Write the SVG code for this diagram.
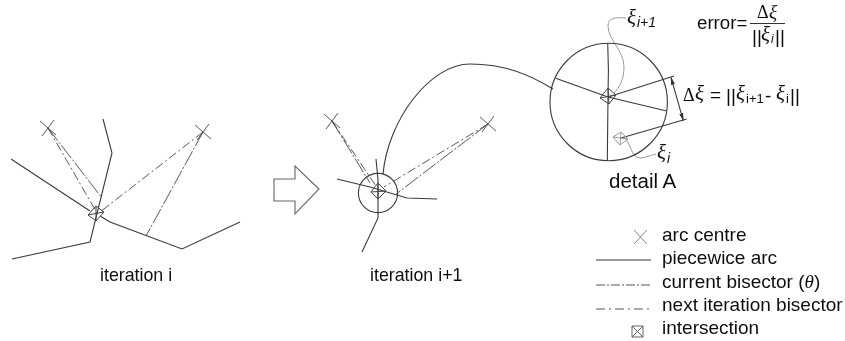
<svg xmlns="http://www.w3.org/2000/svg" width="845" height="341" viewBox="0 0 845 341">
<style>
.l{fill:none;stroke:#3a3a3a;stroke-width:1.1}
.g{fill:none;stroke:#999;stroke-width:1}
.x{fill:none;stroke:#444;stroke-width:.9}
.c{fill:none;stroke:#444;stroke-width:.9;stroke-dasharray:16 2 2 2}
.n{fill:none;stroke:#444;stroke-width:.9;stroke-dasharray:9 3 2 3}
text{font-family:"Liberation Sans",Arial,sans-serif;font-size:19px;fill:#111}
.it{font-size:17.8px}
.s{font-family:"Liberation Serif","Times New Roman",serif;font-style:italic;font-size:21px}
.si{font-style:italic;font-size:14px}
.m{font-family:"Liberation Serif","Times New Roman",serif;font-size:18px}
.f{font-size:19px}
.sub{font-size:13px}
</style>
<defs>
<filter id="b" x="0" y="0" width="1" height="1" filterUnits="objectBoundingBox"><feGaussianBlur stdDeviation="0.35"/></filter>
<marker id="a" markerWidth="8" markerHeight="6" refX="7.500" refY="3" orient="auto-start-reverse" markerUnits="userSpaceOnUse"><path d="M0 1L8 3L0 5Z" fill="#333"/></marker>
<g id="cross"><path d="M-8-7L8 7M-6 8L6-8" class="x"/></g>
<g id="diamond"><path d="M0-8L8-1L1 8L-8 2ZM0-8L1 8M-8 2L8-1" fill="none" stroke="#444" stroke-width="1"/></g>
</defs>
<rect width="845" height="341" fill="#fff"/>
<g filter="url(#b)">
<g id="connectors">
<path class="l" d="M274 179H295V166L319 189L295 214V201H274Z" style="stroke:#666"/>
<path class="l" d="M383 174C388 120 430 64 470 64C505 64 530 75 553 89"/>
<path class="g" d="M626 18C615 17 608 18 608 26C608 40 624 50 624 67C624 80 619 88 614 93"/>
<path class="g" d="M623 137C632 143 630 157 640 158C646 158 650 155 656 154"/>
</g>

<g id="iteration-i">
<path class="l" d="M11 159L90 211M100 216L110 222L182 249L240 222"/>
<path class="l" d="M103 119L112 153L90 242L12 259"/>
<use href="#cross" x="48" y="128"/>
<use href="#cross" x="203" y="132"/>
<path class="n" d="M48 128L97 213M203 132L100 212"/>
<path class="c" d="M48 128L102 198M203 132L146 236"/>
<path d="M88 215L96 206L104 212L96 221ZM88 215L104 212M96 206L96 221" fill="none" stroke="#444" stroke-width="1"/>
<text class="it" x="100" y="281">iteration i</text>
</g>

<g id="iteration-i1">
<path class="l" d="M337 179L370 187L407 198L437 199"/>
<path class="l" d="M376 159L378 180V218L362 252"/>
<circle class="l" cx="378" cy="193" r="19.600"/>
<use href="#cross" x="332" y="121"/>
<use href="#cross" x="488" y="124"/>
<path class="n" d="M332 121L376 186M488 124L384 187"/>
<path class="c" d="M332 121L370 183M488 124L396 194"/>
<path d="M371 192L378 183L386 191L378 199ZM371 192L386 191M378 183V199" fill="none" stroke="#444" stroke-width="1"/>
<text class="it" x="370" y="281">iteration i+1</text>
</g>

<g id="detail-a">
<circle class="l" cx="608.700" cy="102" r="58.700"/>
<path class="l" d="M607.700 43Q609 70 608 97L607.300 161M555.700 78.300L608 97L666.700 111M608 97L674 76M621 138L686.700 119"/>
<path class="l" d="M671 77.300L683.300 120.700" marker-start="url(#a)" marker-end="url(#a)"/>
<use href="#diamond" x="608" y="96"/>
<path d="M613 137L621 132L628 139L620 145ZM613 137L628 139M621 132L620 145" fill="none" stroke="#999" stroke-width="1"/>
<text class="s" x="627" y="24">ξ</text><text class="si" x="637" y="27">i+1</text>
<text class="s" x="657" y="159">ξ</text><text class="si" x="667" y="163">i</text>
<text x="609" y="188" style="font-size:20.500px">detail A</text>
</g>

<g id="error-formula">
<text x="697" y="29" style="font-size:18.700px">error=</text>
<path d="M750 23.500H785" stroke="#333" stroke-width="1"/>
<text class="m" x="757" y="18">Δ</text><text class="s" x="769" y="18" style="font-size:19px">ξ</text>
<text class="f" x="752" y="43">||</text><text class="s" x="761" y="41">ξ</text><text class="si" x="771" y="43" style="font-size:12px">i</text><text class="f" x="775" y="43">||</text>
</g>

<g id="delta-formula">
<text class="m" x="683" y="101">Δ</text><text class="s" x="695" y="100">ξ</text>
<text class="f" x="710" y="101">=</text>
<text class="f" x="726" y="102">||</text><text class="s" x="736" y="100">ξ</text><text class="sub" x="746" y="103">i+1</text>
<text class="f" x="765" y="102">-</text>
<text class="s" x="776" y="100">ξ</text><text class="sub" x="786" y="103">i</text><text class="f" x="790" y="102">||</text>
</g>

<g id="legend">
<path class="x" d="M634 230L647 244M647 230L634 244" style="stroke:#777"/>
<path class="l" d="M596 260H651"/>
<path class="c" d="M596 285H651" style="stroke-dasharray:9 2 2 2"/>
<path class="n" d="M596 309H651" style="stroke-dasharray:9 4 2 4"/>
<path d="M632 326H643V337H632ZM632 326L643 337M643 326L632 337" fill="none" stroke="#555" stroke-width=".9"/>
<text x="662" y="241">arc centre</text>
<text x="662" y="264">piecewice arc</text>
<text x="662" y="288">current bisector (<tspan class="s" style="font-size:19px">θ</tspan>)</text>
<text x="662" y="311">next iteration bisector</text>
<text x="662" y="334">intersection</text>
</g>
</g>
</svg>
